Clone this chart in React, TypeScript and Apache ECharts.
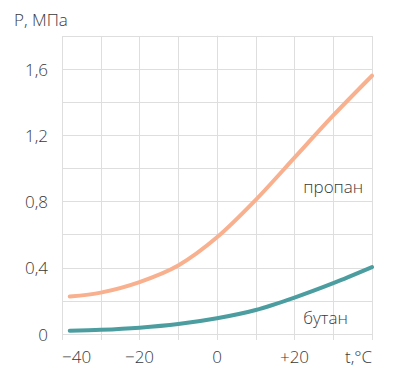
import React, { useEffect, useRef } from "react";
import * as echarts from "echarts";

const temps = [-38, -30, -20, -10, 0, 10, 20, 30, 40];
const propane = [0.226, 0.25, 0.314, 0.414, 0.584, 0.81, 1.065, 1.32, 1.56];
const butane = [0.02, 0.025, 0.038, 0.06, 0.095, 0.145, 0.22, 0.307, 0.404];
const propaneLabel: [number, number] = [30, 0.89];
const butaneLabel: [number, number] = [28, 0.1];
const xTickLabels: Record<string, string> = { "-40": "−40", "-20": "−20", "0": "0", "20": "+20", "40": "{t|t,°C}" };
const yTickLabels: Record<string, string> = { "0": "0", "0.4": "0,4", "0.8": "0,8", "1.2": "1,2", "1.6": "1,6" };
const yAxisTitle = "P, МПа";

const FONT = "'Open Sans', 'Noto Sans', sans-serif";
const TEXT = "#3a3a3a";
const GRID = "#dedede";
const W = 300;

export default function App() {
  const ref = useRef<HTMLDivElement>(null);
  useEffect(() => {
    const chart = echarts.init(ref.current!, undefined, { renderer: "svg" });
    const pair = (xs: number[], ys: number[]) => xs.map((x, i) => [x, ys[i]]);
    const mk = (coord: [number, number], text: string) => ({
      symbol: "circle",
      symbolSize: 1,
      itemStyle: { color: "rgba(0,0,0,0)" },
      label: { show: true, position: "inside", color: TEXT, fontSize: 17, fontWeight: W, fontFamily: FONT, formatter: text },
      data: [{ coord }],
    });
    chart.setOption({
      animation: false,
      grid: { left: 62, right: 28, top: 36, bottom: 53 },
      textStyle: { fontFamily: FONT },
      graphic: [
        { type: "text", left: 14, top: 11, style: { text: yAxisTitle, fill: TEXT, fontSize: 17, fontWeight: W, fontFamily: FONT } },
      ],
      xAxis: {
        type: "value",
        min: -40,
        max: 40,
        interval: 10,
        axisLine: { show: false },
        axisTick: { show: true, length: 6, lineStyle: { color: GRID } },
        splitLine: { show: true, lineStyle: { color: GRID, width: 1 } },
        axisLabel: {
          color: TEXT,
          fontSize: 17,
          fontWeight: W,
          fontFamily: FONT,
          margin: 14,
          showMinLabel: true,
          showMaxLabel: true,
          alignMinLabel: "left",
          formatter: (v: number) => xTickLabels[String(v)] ?? "",
          rich: { t: { width: 54, align: "left", fontSize: 17, fontWeight: W, fontFamily: FONT, color: TEXT } },
        },
      },
      yAxis: {
        type: "value",
        min: 0,
        max: 1.8,
        interval: 0.2,
        axisLine: { show: true, lineStyle: { color: GRID } },
        axisTick: { show: true, length: 4, lineStyle: { color: GRID } },
        splitLine: { show: true, lineStyle: { color: GRID, width: 1 } },
        axisLabel: {
          color: TEXT,
          fontSize: 17,
          fontWeight: W,
          fontFamily: FONT,
          margin: 14,
          formatter: (v: number) => yTickLabels[String(Math.round(v * 10) / 10)] ?? "",
        },
      },
      series: [
        {
          name: "пропан",
          type: "line",
          smooth: 0.3,
          showSymbol: false,
          data: pair(temps, propane),
          lineStyle: { color: "#f8b08e", width: 4, cap: "round" },
          itemStyle: { color: "#f8b08e" },
          markPoint: mk(propaneLabel, "пропан"),
        },
        {
          name: "бутан",
          type: "line",
          smooth: 0.3,
          showSymbol: false,
          data: pair(temps, butane),
          lineStyle: { color: "#4b9da0", width: 4, cap: "round" },
          itemStyle: { color: "#4b9da0" },
          markPoint: mk(butaneLabel, "бутан"),
        },
      ],
    });
    return () => chart.dispose();
  }, []);
  return <div ref={ref} style={{ width: 400, height: 387, position: "absolute", left: 0, top: 0 }} />;
}
